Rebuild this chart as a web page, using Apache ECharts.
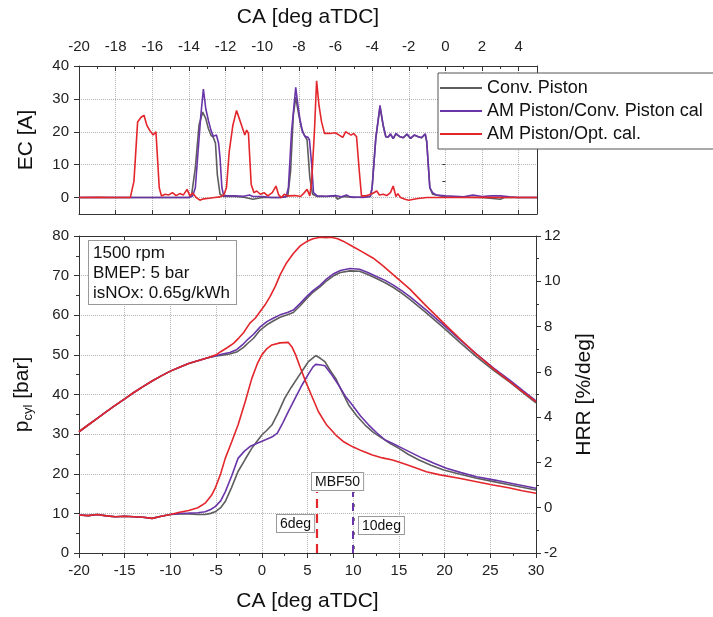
<!DOCTYPE html>
<html><head><meta charset="utf-8">
<script src="https://cdn.jsdelivr.net/npm/echarts@6/dist/echarts.min.js"></script>
<style>html,body{margin:0;padding:0;background:#fff}#c{width:713px;height:617px}</style>
</head><body><div id="c"></div>
<script>
// ---------- DATA ----------
const seriesNames = ['Conv. Piston', 'AM Piston/Conv. Piston cal', 'AM Piston/Opt. cal.'];
const topTickLabels = [-20, -18, -16, -14, -12, -10, -8, -6, -4, -2, 0, 2, 4];
const ecTickValues = [0, 10, 20, 30, 40];

// Injector current EC [A] vs CA (top panel)
const ecConv = [[-20,0],[-17,0],[-14,0],[-13.85,1],[-13.65,9],[-13.45,22],[-13.25,26],[-13.08,24],[-12.94,21],[-12.8,19],[-12.67,18.3],[-12.55,16.5],[-12.45,7],[-12.3,1],[-12.1,0.3],[-11.5,0.3],[-11,0.1],[-10.5,-0.5],[-10,0],[-9,0],[-8.6,0.5],[-8.45,8],[-8.3,25],[-8.17,30.5],[-8.0,25],[-7.85,21],[-7.7,19],[-7.55,17.5],[-7.4,6],[-7.25,1],[-7,0.3],[-6.5,0.3],[-6,0.5],[-5.9,-0.5],[-5.6,0.3],[-5,0],[-4.1,0.3],[-4.0,3],[-3.8,18],[-3.57,27.5],[-3.4,22],[-3.25,18.4],[-3.12,18.4],[-3.0,19.2],[-2.85,17.9],[-2.7,19.3],[-2.5,18.5],[-2.3,18.2],[-2.1,19.2],[-1.9,18],[-1.7,19],[-1.5,18.5],[-1.3,18.2],[-1.1,19.2],[-1.02,17],[-0.85,3],[-0.7,1],[0,0.2],[2,0],[3,-0.5],[3.2,0],[5,0]];
const ecAmConv = [[-20,0],[-17,0],[-14,0],[-13.8,0.5],[-13.65,3],[-13.5,14],[-13.35,25],[-13.21,33],[-13.08,27],[-12.94,23.5],[-12.8,20.5],[-12.67,18.6],[-12.5,19],[-12.38,16.5],[-12.3,12],[-12.2,3],[-12.1,0.5],[-11.5,0.5],[-11,0.4],[-10.7,0.8],[-10.5,0.3],[-10,0.3],[-9.5,0],[-9,0],[-8.7,0.2],[-8.57,3],[-8.4,20],[-8.17,33.5],[-8.05,28],[-7.93,23.5],[-7.8,20],[-7.66,18.6],[-7.5,18.3],[-7.42,17.5],[-7.3,10],[-7.2,1.5],[-7.0,0.5],[-6.5,0.4],[-6,0.6],[-5.7,0.2],[-5.4,0.8],[-5.2,0.2],[-4.5,0],[-4.1,0.3],[-4.0,3],[-3.8,18],[-3.57,28],[-3.4,22],[-3.25,18.5],[-3.12,18.4],[-3.0,19.4],[-2.85,17.9],[-2.7,19.5],[-2.5,18.6],[-2.3,18.2],[-2.1,19.3],[-1.9,18],[-1.7,19],[-1.5,18.6],[-1.3,18.2],[-1.1,19.4],[-1.02,17],[-0.85,3],[-0.7,1.5],[-0.5,0.8],[0,0.5],[0.5,0.4],[1,0.2],[1.5,0.8],[2,0.3],[2.5,0.5],[3,0.5],[3.5,0.2],[4,0],[5,0]];
const ecAmOpt = [[-20,0],[-19,0.1],[-18,0],[-17.2,0],[-17.0,5],[-16.8,23],[-16.6,24.5],[-16.45,25],[-16.3,22],[-16.15,20.5],[-15.95,19],[-15.8,20],[-15.7,19.5],[-15.62,3],[-15.5,0.5],[-15.3,1],[-15.1,0.8],[-14.9,1.5],[-14.7,0.6],[-14.5,1.2],[-14.3,0.8],[-14.1,2.5],[-13.95,0.5],[-13.8,1.4],[-13.6,0],[-13.4,-0.8],[-13.2,-0.4],[-12.9,-0.2],[-12.6,0],[-12.3,0.2],[-12.1,0.8],[-11.95,3],[-11.8,14],[-11.6,22],[-11.4,26.5],[-11.25,24],[-11.1,21.5],[-10.95,19],[-10.85,20.5],[-10.75,19.5],[-10.6,4],[-10.45,1.5],[-10.3,2],[-10.1,1],[-9.9,1.5],[-9.7,0.5],[-9.45,1.5],[-9.25,3.5],[-9.1,0.8],[-8.95,0],[-8.8,1],[-8.6,0.5],[-8.2,0.6],[-7.9,0.3],[-7.7,1.5],[-7.55,2.5],[-7.4,0.5],[-7.3,5],[-7.15,20],[-7.03,35.5],[-6.9,28],[-6.76,23],[-6.6,19.5],[-6.3,19.5],[-6.0,19.7],[-5.8,19],[-5.6,18.3],[-5.45,20],[-5.3,19.5],[-5.15,19],[-5.0,19.5],[-4.85,18.5],[-4.7,8],[-4.58,0.5],[-4.4,0.5],[-4.2,0.8],[-3.95,1.3],[-3.75,2],[-3.6,0.8],[-3.4,1],[-3.2,0.6],[-3.0,1.5],[-2.85,3.5],[-2.7,0.3],[-2.6,1.2],[-2.45,0],[-2.2,-0.5],[-2.0,-0.8],[-1.8,-0.6],[-1.5,-0.3],[-1,0],[0,0],[1,0],[2,0.1],[3,0],[4,0],[5,0]];

// Cylinder pressure p_cyl [bar] vs CA (bottom panel, left axis)
const pCompression = [[-20,30.6],[-19,32.3],[-18,34.0],[-17,35.7],[-16,37.3],[-15,38.9],[-14,40.5],[-13,42.0],[-12,43.4],[-11,44.7],[-10,45.9],[-9,46.9],[-8,47.8],[-7,48.5],[-6,49.2]];
const pConv = [[-5,49.7],[-4.3,49.9],[-3.5,50.2],[-2.75,50.7],[-2,51.9],[-1.5,53.0],[-0.9,54.2],[-0.2,56.2],[0.55,57.6],[1.3,58.6],[2,59.5],[2.8,60.1],[3.45,60.7],[4.2,62.4],[4.9,64.2],[5.6,65.8],[6.4,67.2],[7.1,68.7],[7.8,69.9],[8.6,70.8],[9.65,71.2],[10.7,71.1],[11.6,70.3],[12.6,69.2],[13.5,68.2],[14.4,67.0],[15.3,65.6],[16.2,64.0],[18,60.6],[19.9,56.8],[21.7,53.1],[23.5,49.5],[25.4,46.0],[27.2,43.0],[28.6,40.4],[30,37.9]];
const pAmConv = [[-5,49.8],[-4.3,50.2],[-3.5,50.6],[-2.75,51.3],[-2,52.8],[-1.5,54.0],[-0.9,55.2],[-0.2,57],[0.55,58.4],[1.3,59.3],[2,60.1],[2.8,60.7],[3.45,61.3],[4.2,63.0],[4.9,64.7],[5.6,66.2],[6.4,67.6],[7.1,69.2],[7.8,70.4],[8.6,71.3],[9.65,71.8],[10.7,71.6],[11.6,70.8],[12.6,69.7],[13.5,68.8],[14.4,67.6],[15.3,66.2],[16.2,64.7],[18,61.3],[19.9,57.5],[21.7,53.8],[23.5,50.2],[25.4,46.6],[27.2,43.5],[28.6,40.9],[30,38.4]];
const pAmOpt = [[-5,50.0],[-4.5,50.8],[-3.8,51.8],[-3.1,52.9],[-2.5,54.3],[-2,55.6],[-1.3,58],[-0.7,59.3],[-0.2,60.9],[0.4,62.8],[0.9,64.7],[1.5,67.4],[2,70.2],[2.7,73.2],[3.45,75.6],[4.2,77.5],[4.9,78.6],[5.6,79.3],[6.4,79.7],[7,79.6],[7.6,79.7],[8.3,79.3],[8.9,78.7],[10,77.3],[11,76.0],[12.2,74.4],[13.3,72.4],[14.4,70.2],[16.2,66.6],[18,62.3],[19.9,58.0],[21.7,54.0],[23.5,50.1],[25.4,46.4],[27.2,43.1],[28.6,40.6],[30,38.2]];

// Heat release rate HRR [%/deg] vs CA (bottom panel, right axis)
const hrrEarly = [[-20,-0.32],[-19,-0.35],[-18,-0.3],[-17,-0.36],[-16,-0.4],[-15,-0.38],[-14,-0.4],[-13,-0.42],[-12,-0.47],[-11,-0.38],[-10,-0.3]];
const hrrConv = [[-9,-0.28],[-8,-0.28],[-7,-0.3],[-6.2,-0.3],[-5.6,-0.25],[-5.1,-0.18],[-4.5,0.0],[-4.0,0.27],[-3.3,0.9],[-2.6,1.6],[-1.8,2.15],[-1.1,2.62],[-0.5,2.95],[0,3.21],[0.5,3.4],[1.1,3.65],[1.8,4.2],[2.5,4.83],[3.2,5.3],[4.0,5.79],[4.6,6.15],[5.1,6.45],[5.9,6.72],[6.4,6.6],[6.9,6.45],[7.5,6.05],[8.1,5.7],[8.8,5.1],[9.5,4.54],[10.4,4.05],[11.3,3.65],[12.2,3.33],[13.2,3.06],[14.1,2.82],[15,2.62],[16,2.36],[17.2,2.11],[18.5,1.88],[19.9,1.67],[21.7,1.48],[23.5,1.3],[25.5,1.14],[27.5,0.98],[30,0.78]];
const hrrAmConv = [[-9,-0.25],[-8,-0.24],[-7,-0.22],[-6.2,-0.18],[-5.6,-0.08],[-5.1,0.05],[-4.5,0.3],[-4.0,0.7],[-3.3,1.4],[-2.6,2.18],[-1.9,2.5],[-1.3,2.7],[-0.5,2.85],[0.4,3.0],[1.1,3.12],[1.7,3.29],[2.3,3.75],[2.9,4.24],[3.6,4.8],[4.4,5.42],[5.1,5.9],[5.6,6.22],[5.9,6.33],[6.5,6.3],[6.9,6.27],[7.6,5.9],[8.4,5.42],[9.1,4.95],[9.9,4.54],[10.8,4.05],[11.7,3.65],[12.6,3.3],[13.5,2.99],[14.5,2.8],[15.4,2.62],[16.5,2.4],[17.6,2.18],[18.9,1.95],[20.2,1.74],[21.8,1.55],[23.5,1.37],[25.5,1.22],[27.5,1.06],[30,0.86]];
const hrrAmOpt = [[-9,-0.2],[-8,-0.12],[-7,0],[-6.2,0.2],[-5.5,0.55],[-5.1,0.86],[-4.5,1.5],[-4.0,2.18],[-3.3,2.9],[-2.6,3.65],[-1.8,4.7],[-1.1,5.7],[-0.5,6.35],[0,6.75],[0.5,7.0],[1.1,7.19],[2,7.28],[2.9,7.3],[3.3,7.1],[3.7,6.75],[4.2,6.2],[4.8,5.57],[5.5,4.9],[6.2,4.24],[7.1,3.65],[8.1,3.21],[9,2.9],[9.9,2.7],[11,2.5],[12.1,2.33],[13.2,2.2],[14.3,2.11],[15.4,1.96],[16.5,1.81],[18,1.59],[19.5,1.45],[21.6,1.3],[23.5,1.15],[25.3,1.0],[27,0.88],[28.5,0.75],[30,0.64]];

// MBF50 crank angles [deg aTDC] for Conv, AM/Conv, AM/Opt, and marker height [bar]
const mbf50 = [10, 10, 6];
const mbfMarkTop = 15.4;

// ---------- STYLE ----------
const FONT = 'Liberation Sans, Arial, Helvetica, sans-serif';
const colors = ['#5e5e5e', '#6a35a8', '#e3262b'];
const axisColor = '#333';
const gridLine = {show: true, lineStyle: {type: 'dotted', color: '#b5b5b5', width: 1}};
const tickLabel = {fontSize: 15, color: '#222', fontFamily: FONT};
const titleStyle = {fontSize: 21, color: '#111', fontFamily: FONT};

function mkLine(name, idx, data, xi, yi, extra) {
  return Object.assign({
    name: name, type: 'line', data: data, xAxisIndex: xi, yAxisIndex: yi,
    showSymbol: false, symbol: 'none', smooth: false,
    lineStyle: {color: colors[idx], width: 1.6},
    itemStyle: {color: colors[idx]}, z: 3 + idx, silent: true
  }, extra || {});
}
function mbfMark(x, color, dash, offset, width) {
  return {
    silent: true, symbol: 'none', animation: false,
    label: {show: false},
    lineStyle: {color: color, type: dash, dashOffset: offset, width: width},
    data: [[{coord: [x, 0]}, {coord: [x, mbfMarkTop]}]]
  };
}

const chart = echarts.init(document.getElementById('c'), null, {renderer: 'canvas'});
chart.setOption({
  animation: false,
  backgroundColor: '#fff',
  textStyle: {fontFamily: FONT},
  grid: [
    {left: 79, top: 66, width: 458, height: 148, outerBoundsMode: 'none'},
    {left: 79, top: 236, width: 457, height: 317, outerBoundsMode: 'none'}
  ],
  legend: {
    data: seriesNames, orient: 'vertical', left: 438, top: 73,
    icon: 'rect', itemWidth: 42, itemHeight: 2, itemGap: 5,
    padding: [6, 30, 6, 2], borderColor: '#555', borderWidth: 1, backgroundColor: '#fff',
    textStyle: {fontSize: 18, color: '#111', fontFamily: FONT, lineHeight: 18, padding: [0, 0, 0, 0]},
    selectedMode: false, z: 10
  },
  xAxis: [
    {gridIndex: 0, type: 'value', position: 'top', min: -20, max: 5, interval: 2,
     name: 'CA [deg aTDC]', nameLocation: 'middle', nameGap: 38, nameTextStyle: titleStyle,
     axisLine: {onZero: false, lineStyle: {color: axisColor}},
     axisTick: {inside: true, length: 5, lineStyle: {color: axisColor}},
     minorTick: {show: true, splitNumber: 2, length: 3, lineStyle: {color: axisColor}},
     axisLabel: Object.assign({margin: 12, showMaxLabel: false, formatter: v => topTickLabels.indexOf(v) >= 0 ? String(v) : ''}, tickLabel),
     splitLine: gridLine},
    {gridIndex: 0, type: 'value', position: 'bottom', min: -20, max: 5, interval: 2,
     axisLine: {onZero: false, lineStyle: {color: axisColor}},
     axisTick: {inside: true, length: 4, lineStyle: {color: axisColor}},
     axisLabel: {show: false}, splitLine: {show: false}},
    {gridIndex: 1, type: 'value', position: 'bottom', min: -20, max: 30, interval: 5,
     name: 'CA [deg aTDC]', nameLocation: 'middle', nameGap: 38, nameTextStyle: titleStyle,
     axisLine: {onZero: false, lineStyle: {color: axisColor}},
     axisTick: {length: 5, lineStyle: {color: axisColor}},
     minorTick: {show: true, splitNumber: 2, length: 3, lineStyle: {color: axisColor}},
     axisLabel: Object.assign({margin: 10}, tickLabel),
     splitLine: gridLine},
    {gridIndex: 1, type: 'value', position: 'top', min: -20, max: 30, interval: 5,
     axisLine: {onZero: false, lineStyle: {color: axisColor}},
     axisTick: {inside: true, length: 4, lineStyle: {color: axisColor}},
     axisLabel: {show: false}, splitLine: {show: false}}
  ],
  yAxis: [
    {gridIndex: 0, type: 'value', position: 'left', min: -5, max: 40,
     name: 'EC [A]', nameLocation: 'middle', nameGap: 42, nameRotate: 90, nameTextStyle: titleStyle,
     axisLine: {show: true, onZero: false, lineStyle: {color: axisColor}},
     axisTick: {show: true, length: 5, customValues: ecTickValues, lineStyle: {color: axisColor}},
     axisLabel: Object.assign({margin: 10, customValues: ecTickValues}, tickLabel),
     splitLine: gridLine},
    {gridIndex: 0, type: 'value', position: 'left', min: -5, max: 40, interval: 5,
     axisLine: {show: false}, axisTick: {show: true, length: 3, lineStyle: {color: axisColor}},
     axisLabel: {show: false}, splitLine: {show: false}},
    {gridIndex: 0, type: 'value', position: 'right', min: -5, max: 40,
     axisLine: {show: true, onZero: false, lineStyle: {color: axisColor}},
     axisTick: {show: false}, axisLabel: {show: false}, splitLine: {show: false}},
    {gridIndex: 1, type: 'value', position: 'left', min: 0, max: 80, interval: 10,
     name: '{a|p}{b|cyl}{a| [bar]}', nameLocation: 'middle', nameGap: 44, nameRotate: 90,
     nameTextStyle: {rich: {
       a: {fontSize: 21, color: '#111', fontFamily: FONT, lineHeight: 26, verticalAlign: 'middle'},
       b: {fontSize: 13, color: '#111', fontFamily: FONT, lineHeight: 14, verticalAlign: 'bottom'}}},
     axisLine: {show: true, onZero: false, lineStyle: {color: axisColor}},
     axisTick: {show: true, length: 5, lineStyle: {color: axisColor}},
     minorTick: {show: true, splitNumber: 2, length: 3, lineStyle: {color: axisColor}},
     axisLabel: Object.assign({margin: 10}, tickLabel),
     splitLine: gridLine},
    {gridIndex: 1, type: 'value', position: 'right', min: -2, max: 12, interval: 2,
     name: 'HRR [%/deg]', nameLocation: 'middle', nameGap: 38, nameRotate: 90, nameTextStyle: titleStyle,
     axisLine: {show: true, onZero: false, lineStyle: {color: axisColor}},
     axisTick: {show: true, length: 5, lineStyle: {color: axisColor}},
     minorTick: {show: true, splitNumber: 2, length: 3, lineStyle: {color: axisColor}},
     axisLabel: Object.assign({margin: 8}, tickLabel),
     splitLine: {show: false}}
  ],
  series: [
    mkLine(seriesNames[0], 0, ecConv, 0, 0),
    mkLine(seriesNames[1], 1, ecAmConv, 0, 0),
    mkLine(seriesNames[2], 2, ecAmOpt, 0, 0),
    mkLine(seriesNames[0], 0, pCompression.concat(pConv), 2, 3, {markLine: mbfMark(mbf50[0] + 0.08, colors[0], [3, 11], 10, 1.6)}),
    mkLine(seriesNames[1], 1, pCompression.concat(pAmConv), 2, 3, {markLine: mbfMark(mbf50[1] - 0.05, colors[1], [8, 6], 0, 2)}),
    mkLine(seriesNames[2], 2, pCompression.concat(pAmOpt), 2, 3, {markLine: mbfMark(mbf50[2], colors[2], [9, 6], 0, 2.2)}),
    mkLine(seriesNames[0], 0, hrrEarly.concat(hrrConv), 2, 4),
    mkLine(seriesNames[1], 1, hrrEarly.concat(hrrAmConv), 2, 4),
    mkLine(seriesNames[2], 2, hrrEarly.concat(hrrAmOpt), 2, 4)
  ],
  graphic: [
    {type: 'text', left: 88, top: 240, z: 20, style: {
      text: '1500 rpm\nBMEP: 5 bar\nisNOx: 0.65g/kWh', font: '17px ' + FONT, fill: '#111',
      lineHeight: 20, backgroundColor: '#fff', borderColor: '#999', borderWidth: 1, padding: [2, 6, 1, 4]}},
    {type: 'text', left: 311, top: 472, z: 20, style: {
      text: 'MBF50', font: '14px ' + FONT, fill: '#111', backgroundColor: '#fff',
      borderColor: '#999', borderWidth: 1, padding: [2, 3, 1, 3]}},
    {type: 'text', left: 276, top: 514, z: 20, style: {
      text: '6deg', font: '14px ' + FONT, fill: '#111', backgroundColor: '#fff',
      borderColor: '#999', borderWidth: 1, padding: [2, 3, 1, 3]}},
    {type: 'text', left: 358, top: 516, z: 20, style: {
      text: '10deg', font: '14px ' + FONT, fill: '#111', backgroundColor: '#fff',
      borderColor: '#999', borderWidth: 1, padding: [2, 3, 1, 3]}}
  ]
});
</script>
</body></html>
